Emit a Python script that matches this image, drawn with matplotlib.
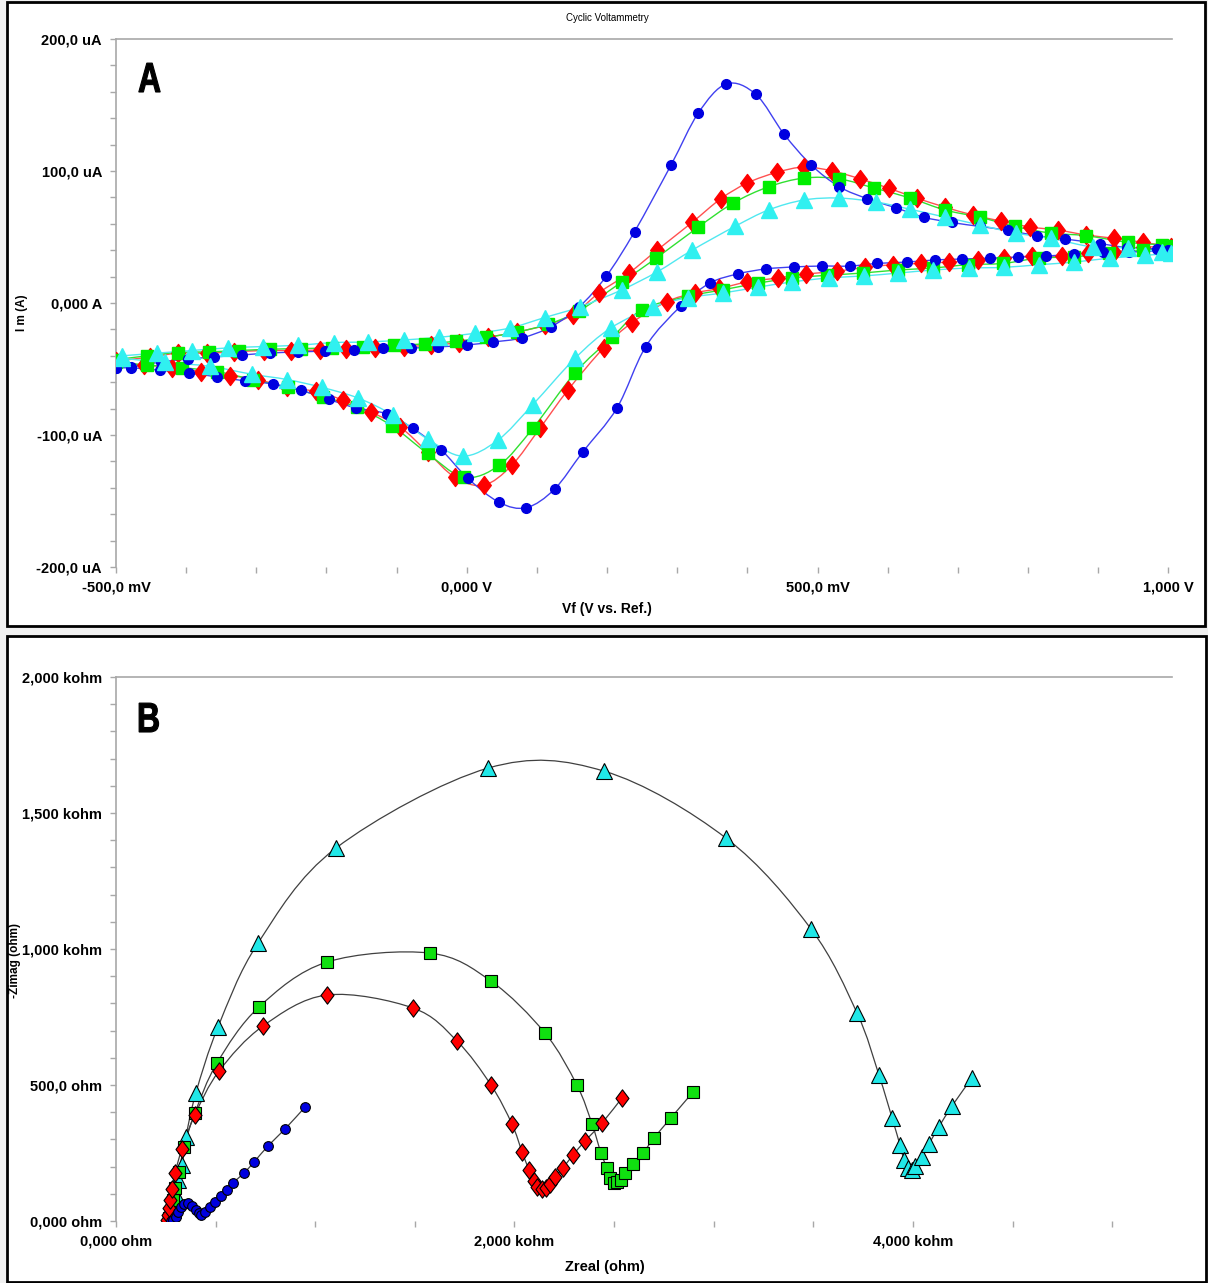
import numpy as np
import matplotlib
matplotlib.use('Agg')
from matplotlib import pyplot as plt
from matplotlib.path import Path
from matplotlib.patches import PathPatch, Rectangle
from matplotlib.textpath import TextPath
from matplotlib.font_manager import FontProperties
from matplotlib.transforms import Affine2D
from matplotlib.ticker import FixedLocator, MultipleLocator

plt.rcParams['font.family'] = ['Liberation Sans', 'DejaVu Sans']

# ---- panel A: cyclic voltammetry (mV, uA), each list is one closed loop
blue_v = [-500, -479, -436, -397, -360, -321, -281, -241, -202, -161, -120, -80, -41, 0, 38, 78, 120, 160, 199, 239,
          291, 330, 370, 412, 452, 491, 531, 571, 612, 651, 691, 731, 771, 812, 852, 902, 941, 983, 1000,
          944, 906, 866, 826, 786, 746, 705, 667, 627, 585, 546, 506, 466, 426, 386, 346, 305, 255, 214,
          165, 125, 85, 46, 1, -37, -77, -114, -158, -197, -237, -276, -316, -356, -396, -437, -478, -500]
blue_i = [-49, -48.5, -44.7, -42.4, -40.9, -39.4, -37.9, -37.1, -36.4, -35.6, -34.1, -34.1, -33.3, -31.8, -29.5, -26.5, -18, -3, 20.5, 54,
          104.5, 144, 166, 158, 128, 104.5, 88, 79, 72, 65, 61, 58, 55, 51, 48.5, 45, 42, 41, 40,
          38.6, 38.6, 37, 35.6, 34.8, 34, 33.3, 32.6, 31, 30, 28, 28, 27.3, 25.8, 22, 15, -2.3, -33, -79.5,
          -113, -141, -155, -151, -132.6, -111, -95, -84, -79.5, -73, -66, -61.4, -59, -56, -53, -51, -49, -49]

red_v = [-500, -452, -411, -370, -332, -289, -251, -209, -172, -131, -90, -51, -11, 30, 71, 111, 151, 188, 231, 271,
         321, 362, 400, 442, 481, 521, 561, 601, 641, 681, 721, 762, 802, 842, 883, 923, 963, 1004,
         963, 923, 885, 848, 806, 766, 728, 687, 647, 607, 567, 527, 484, 444, 400, 360, 325, 285, 235, 195,
         144, 104, 64, 24, -17, -56, -95, -137, -177, -215, -256, -298, -338, -379, -420, -460, -500]
red_i = [-44, -41, -38, -38, -37, -36, -36, -35.6, -35, -34, -33, -32, -30, -26, -22, -17, -9, 7.6, 22.7, 40,
         61, 79, 91, 99, 103, 100, 94, 87, 79.5, 72.7, 66.7, 62, 57.6, 55.3, 51.5, 49, 46, 42.4,
         42.4, 38.6, 38, 35.6, 35.6, 34, 32.6, 31, 30, 29, 27, 24, 22, 19, 16, 11, 7.6, 1, -15, -34,
         -66, -95, -123, -138, -132, -113, -94, -82.6, -73.5, -67, -64, -58, -55, -52, -49, -47, -45]

green_v = [-500, -456, -412, -368, -324, -280, -236, -192, -148, -104, -60, -16, 28, 72, 116, 160, 221, 270, 330, 380,
           430, 481, 531, 581, 632, 681, 731, 781, 832, 882, 942, 991, 1004,
           964, 915, 866, 815, 764, 714, 664, 614, 564, 514, 464, 415, 365, 315, 250, 207, 154, 94, 46, -4,
           -56, -107, -157, -205, -255, -305, -356, -406, -456, -500]
green_i = [-43, -40, -37.5, -37, -36, -35, -34.5, -34, -33, -32, -31, -29, -26, -22, -16, -6, 16, 34, 57.6, 75.8,
           88, 94.7, 94, 87, 79.5, 70.5, 65, 58, 53, 51, 46, 44, 43,
           40, 38, 35, 34, 30, 29, 26.5, 25, 22.7, 21, 19, 15, 10, 5, -5, -26, -53, -95, -123, -132,
           -114, -93, -79, -71, -64, -58, -52, -49, -47, -45]

cyan_v = [-491, -442, -392, -340, -291, -241, -190, -141, -90, -40, 11, 61, 111, 161, 221, 271, 321, 382, 430,
          480, 530, 583, 632, 682, 732, 782, 832, 892, 942, 991, 1004,
          966, 916, 866, 815, 765, 715, 665, 615, 566, 516, 464, 415, 365, 315, 266, 205, 154, 94, 44, -6,
          -56, -105, -155, -206, -256, -306, -366, -430, -491]
cyan_i = [-40, -38, -36, -34, -33, -32, -30, -29.5, -28, -26, -23, -19, -11, -3, 10, 23.5, 40, 58, 70.5,
          78, 79.5, 76.5, 71, 65, 59, 53, 49, 42.4, 41.7, 38.6, 38,
          36, 34, 31, 29, 27, 26.5, 25, 22.7, 20.5, 19, 16, 12, 7.6, 4, -3, -19, -42, -77, -104, -116,
          -103, -85, -72, -64, -58, -54, -48, -45, -42]

cv_xticks = [-500, 0, 500, 1000]
cv_xlabels = ['-500,0 mV', '0,000 V', '500,0 mV', '1,000 V']
cv_yticks = [-200, -100, 0, 100, 200]
cv_ylabels = ['-200,0 uA', '-100,0 uA', '0,000 A', '100,0 uA', '200,0 uA']

# ---- panel B: Nyquist plot (ohm)
cyan_re = [281, 286, 301, 311, 331, 351, 401, 512, 713, 1104, 1867, 2449, 3061, 3488, 3719, 3829, 3895, 3935,
           3955, 3975, 3995, 4010, 4045, 4080, 4130, 4196, 4296]
cyan_im = [11, 40, 96, 150, 206, 309, 471, 713, 1022, 1371, 1665, 1654, 1408, 1074, 765, 537, 379, 279,
           224, 195, 188, 202, 235, 283, 346, 423, 526]
green_re = [266, 276, 286, 296, 316, 341, 396, 507, 718, 1059, 1576, 1882, 2153, 2313, 2389, 2434, 2464, 2479,
            2499, 2514, 2534, 2555, 2595, 2645, 2700, 2785, 2896]
green_im = [11, 29, 77, 121, 180, 272, 397, 581, 787, 952, 985, 882, 691, 500, 357, 250, 195, 158,
            140, 143, 151, 176, 210, 250, 305, 379, 474]
red_re = [256, 261, 266, 271, 281, 296, 331, 396, 517, 738, 1059, 1491, 1711, 1882, 1987, 2038, 2073, 2098,
          2113, 2138, 2158, 2178, 2203, 2243, 2294, 2354, 2439, 2539]
red_im = [4, 22, 48, 77, 118, 176, 265, 390, 551, 717, 831, 783, 662, 500, 357, 254, 188, 147,
          125, 118, 121, 136, 162, 195, 243, 294, 360, 452]
blue_re = [276, 286, 301, 311, 326, 341, 361, 381, 402, 417, 427, 447, 472, 497, 527, 557, 587, 642, 693, 763, 848, 949]
blue_im = [0, 4, 15, 33, 51, 62, 66, 55, 40, 29, 22, 33, 51, 70, 92, 114, 140, 176, 217, 276, 338, 419]

eis_xticks = [0, 2000, 4000]
eis_xlabels = ['0,000 ohm', '2,000 kohm', '4,000 kohm']
eis_yticks = [0, 500, 1000, 1500, 2000]
eis_ylabels = ['0,000 ohm', '500,0 ohm', '1,000 kohm', '1,500 kohm', '2,000 kohm']

W, H = 1208, 1283

# diamond a bit taller than wide, like the instrument software draws it
DIAMOND = Path([(0, 1), (0.75, 0), (0, -1), (-0.75, 0), (0, 1)],
               [Path.MOVETO, Path.LINETO, Path.LINETO, Path.LINETO, Path.CLOSEPOLY])


# smooth line through the measured points (catmull-rom drawn as bezier path)
def smooth_line(ax, x, y, color, lw):
    pts = np.column_stack([x, y]).astype(float)
    n = len(pts)
    verts = [pts[0]]
    codes = [Path.MOVETO]
    for k in range(n - 1):
        p0 = pts[max(k - 1, 0)]
        p1 = pts[k]
        p2 = pts[k + 1]
        p3 = pts[min(k + 2, n - 1)]
        verts += [p1 + (p2 - p0) / 6, p2 - (p3 - p1) / 6, p2]
        codes += [Path.CURVE4] * 3
    ax.add_patch(PathPatch(Path(verts, codes), facecolor='none', edgecolor=color, lw=lw, zorder=2))


def style_axes(ax):
    for s in ['right', 'bottom']:
        ax.spines[s].set_visible(False)
    for s in ['left', 'top']:
        ax.spines[s].set_color('#a8a8a8')
        ax.spines[s].set_linewidth(1.2)
    ax.tick_params(which='both', direction='out', length=4, width=1, color='#a8a8a8',
                   labelsize=10.5, top=False, right=False)
    ax.tick_params(axis='x', pad=6)
    ax.tick_params(axis='y', pad=6)
    for lab in ax.get_xticklabels() + ax.get_yticklabels():
        lab.set_fontweight('bold')
    ax.set_facecolor('none')


# big condensed panel letter, placed in pixels (left, bottom of the glyph)
def panel_letter(fig, letter, left, bottom):
    tp = TextPath((0, 0), letter, size=42, prop=FontProperties(family='Liberation Sans', weight='bold'))
    tr = Affine2D().scale(0.76, 1.0).translate(left, H - bottom)
    fig.add_artist(PathPatch(tp, transform=tr, facecolor='black', edgecolor='black', lw=0.8, zorder=5))


fig = plt.figure(figsize=(W / 100, H / 100), dpi=100, facecolor='#f0f0f0')

# panel frames
fig.add_artist(Rectangle((7 / W, 1 - 626 / H), 1198 / W, 624 / H, transform=fig.transFigure,
                         facecolor='white', edgecolor='black', lw=2, zorder=0))
fig.add_artist(Rectangle((7 / W, 1 - 1282 / H), 1199 / W, 646 / H, transform=fig.transFigure,
                         facecolor='white', edgecolor='black', lw=2, zorder=0))

# ---------------- panel A
ax = fig.add_axes([116 / W, 1 - 567 / H, (1172 - 116) / W, (567 - 39) / H])
series_a = [
    (red_v, red_i, '#ff0000', '#ff5050', DIAMOND, 13),
    (green_v, green_i, '#00ee00', '#30e030', 's', 8.5),
    (blue_v, blue_i, '#0000e0', '#4040f0', 'o', 7),
    (cyan_v, cyan_i, '#30f0f0', '#50e8f0', '^', 11),
]
for v, i, mc, lc, mk, ms in series_a:
    smooth_line(ax, v, i, lc, 1.0)
    ax.plot(v, i, ls='none', marker=mk, ms=ms, mfc=mc, mec=mc, zorder=3)
ax.set_xlim(-500, 1005)
ax.set_ylim(-200, 200)
ax.xaxis.set_major_locator(FixedLocator(cv_xticks))
ax.set_xticklabels(cv_xlabels)
ax.xaxis.set_minor_locator(MultipleLocator(100))
ax.yaxis.set_major_locator(FixedLocator(cv_yticks))
ax.set_yticklabels(cv_ylabels)
ax.yaxis.set_minor_locator(MultipleLocator(20))
style_axes(ax)
panel_letter(fig, 'A', 138, 92)

fig.text(607 / W, 1 - 18 / H, 'Cyclic Voltammetry', fontsize=7, ha='center', va='center')
fig.text(607 / W, 1 - 609 / H, 'Vf (V vs. Ref.)', fontsize=10, fontweight='bold', ha='center', va='center')
fig.text(22 / W, 1 - 313 / H, 'I m (A)', fontsize=8.5, fontweight='bold', rotation=90, ha='center', va='center')

# ---------------- panel B
bx = fig.add_axes([116 / W, 1 - 1221 / H, (1172 - 116) / W, (1221 - 677) / H])
series_b = [
    (cyan_re, cyan_im, '#20e8e8', '^', 11),
    (green_re, green_im, '#10e010', 's', 8.5),
    (red_re, red_im, '#ff0000', DIAMOND, 12.5),
    (blue_re, blue_im, '#0000e0', 'o', 7),
]
for x, y, mc, mk, ms in series_b:
    smooth_line(bx, x, y, '#404040', 0.9)
    bx.plot(x, y, ls='none', marker=mk, ms=ms, mfc=mc, mec='black', mew=0.8, zorder=3)
bx.set_xlim(0, 5300)
bx.set_ylim(0, 2000)
bx.xaxis.set_major_locator(FixedLocator(eis_xticks))
bx.set_xticklabels(eis_xlabels)
bx.xaxis.set_minor_locator(MultipleLocator(500))
bx.yaxis.set_major_locator(FixedLocator(eis_yticks))
bx.set_yticklabels(eis_ylabels)
bx.yaxis.set_minor_locator(MultipleLocator(100))
style_axes(bx)
panel_letter(fig, 'B', 137, 732)

fig.text(605 / W, 1 - 1267 / H, 'Zreal (ohm)', fontsize=10.5, fontweight='bold', ha='center', va='center')
fig.text(15 / W, 1 - 960 / H, '-Zimag (ohm)', fontsize=8.5, fontweight='bold', rotation=90, ha='center', va='center')

fig.savefig('out.png', dpi=100, facecolor=fig.get_facecolor())
